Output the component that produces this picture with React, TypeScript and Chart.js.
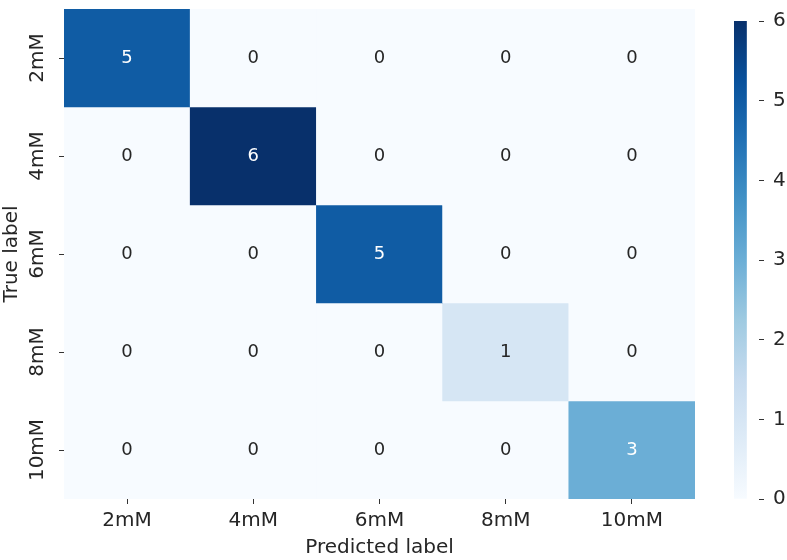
import React, { useEffect, useRef } from 'react';
import { Chart, registerables } from 'chart.js';

Chart.register(...registerables);

const predictedLabels = ['2mM', '4mM', '6mM', '8mM', '10mM'];
const trueLabels = ['2mM', '4mM', '6mM', '8mM', '10mM'];
const matrixRows: number[][] = [
  [5, 0, 0, 0, 0],
  [0, 6, 0, 0, 0],
  [0, 0, 5, 0, 0],
  [0, 0, 0, 1, 0],
  [0, 0, 0, 0, 3],
];
const colorbarTicks = [0, 1, 2, 3, 4, 5, 6];
const vMin = 0;
const vMax = 6;

const BLUES = [
  [247, 251, 255],
  [222, 235, 247],
  [198, 219, 239],
  [158, 202, 225],
  [107, 174, 214],
  [66, 146, 198],
  [33, 113, 181],
  [8, 81, 156],
  [8, 48, 107],
];

const FONT = 'DejaVu Sans';
const TEXT = '#262626';
const LABEL_SIZE = 20;
const ANNOT_SIZE = 18;

function bluesAt(t: number): number[] {
  const x = Math.max(0, Math.min(1, t)) * (BLUES.length - 1);
  const i = Math.min(BLUES.length - 2, Math.floor(x));
  const f = x - i;
  const a = BLUES[i];
  const b = BLUES[i + 1];
  return [0, 1, 2].map((k) => a[k] + (b[k] - a[k]) * f);
}
function rgb(c: number[]) {
  return `rgb(${Math.round(c[0])},${Math.round(c[1])},${Math.round(c[2])})`;
}
function colorFor(v: number) {
  return rgb(bluesAt((v - vMin) / (vMax - vMin)));
}
function isLight(v: number) {
  const c = bluesAt((v - vMin) / (vMax - vMin)).map((u) => {
    const s = u / 255;
    return s <= 0.03928 ? s / 12.92 : Math.pow((s + 0.055) / 1.055, 2.4);
  });
  const lum = 0.2126 * c[0] + 0.7152 * c[1] + 0.0722 * c[2];
  return lum > 0.408;
}

const heatPlugin = {
  id: 'heatText',
  afterDatasetsDraw(chart: any) {
    const ctx = chart.ctx;
    const xs = chart.scales.x;
    const ys = chart.scales.y;
    ctx.save();
    ctx.font = `${ANNOT_SIZE}px "${FONT}"`;
    ctx.textAlign = 'center';
    ctx.textBaseline = 'middle';
    matrixRows.forEach((row, r) => {
      row.forEach((v, c) => {
        ctx.fillStyle = isLight(v) ? TEXT : '#ffffff';
        ctx.fillText(String(v), xs.getPixelForValue(c), ys.getPixelForValue(r + 0.5));
      });
    });
    ctx.restore();
  },
  afterDraw(chart: any) {
    const ctx = chart.ctx;
    const ys = chart.scales.y;
    const baseX = chart.chartArea.left - 21;
    ctx.save();
    ctx.font = `${LABEL_SIZE}px "${FONT}"`;
    ctx.fillStyle = TEXT;
    ctx.textAlign = 'center';
    ctx.textBaseline = 'alphabetic';
    trueLabels.forEach((lab, r) => {
      ctx.save();
      ctx.translate(baseX, ys.getPixelForValue(r + 0.5));
      ctx.rotate(-Math.PI / 2);
      ctx.fillText(lab, 0, 0);
      ctx.restore();
    });
    ctx.restore();
  },
};

export default function App() {
  const mainRef = useRef<HTMLCanvasElement>(null);
  const barRef = useRef<HTMLCanvasElement>(null);

  useEffect(() => {
    if (!mainRef.current || !barRef.current) return;

    const datasets = matrixRows.map((row, r) => ({
      label: trueLabels[r],
      data: row.map(() => [r, r + 1]),
      backgroundColor: row.map((v) => colorFor(v)),
      borderWidth: 0,
      barPercentage: 1,
      categoryPercentage: 1,
      grouped: false,
    }));

    const main = new Chart(mainRef.current, {
      type: 'bar',
      data: { labels: predictedLabels, datasets: datasets as any },
      plugins: [heatPlugin],
      options: {
        responsive: false,
        animation: false,
        layout: { padding: { top: 9, right: 92, left: 0, bottom: 0 } },
        plugins: { legend: { display: false }, tooltip: { enabled: false } },
        scales: {
          x: {
            type: 'category',
            offset: true,
            grid: { drawOnChartArea: false, offset: false, tickLength: 5, color: '#333333', lineWidth: 1 },
            border: { display: false },
            ticks: { color: TEXT, font: { family: FONT, size: LABEL_SIZE }, padding: 5, maxRotation: 0, minRotation: 0 },
            title: { display: true, text: 'Predicted label', color: TEXT, font: { family: FONT, size: LABEL_SIZE }, padding: 0 },
            afterFit: (s: any) => { s.height = 61; },
          },
          y: {
            type: 'linear',
            min: 0,
            max: 5,
            reverse: true,
            afterBuildTicks: (s: any) => { s.ticks = trueLabels.map((_, i) => ({ value: i + 0.5 })); },
            grid: { drawOnChartArea: false, tickLength: 5, color: '#333333', lineWidth: 1 },
            border: { display: false },
            ticks: { display: false },
            title: { display: true, text: 'True label', color: TEXT, font: { family: FONT, size: LABEL_SIZE }, padding: 0 },
            afterFit: (s: any) => { s.width = 64; },
          },
        },
      } as any,
    });

    const bar = new Chart(barRef.current, {
      type: 'bar',
      data: {
        labels: [''],
        datasets: [
          {
            data: [[vMin, vMax]] as any,
            borderWidth: 0,
            barPercentage: 1,
            categoryPercentage: 1,
            backgroundColor: (c: any) => {
              const area = c.chart.chartArea;
              if (!area) return rgb(BLUES[8]);
              const g = c.chart.ctx.createLinearGradient(0, area.bottom, 0, area.top);
              BLUES.forEach((col, i) => g.addColorStop(i / (BLUES.length - 1), rgb(col)));
              return g;
            },
          },
        ],
      },
      options: {
        responsive: false,
        animation: false,
        layout: { padding: { top: 9, left: 34, bottom: 61, right: 0 } },
        plugins: { legend: { display: false }, tooltip: { enabled: false } },
        scales: {
          x: { type: 'category', display: false, offset: false },
          y: {
            type: 'linear',
            position: 'right',
            min: vMin,
            max: vMax,
            afterBuildTicks: (s: any) => { s.ticks = colorbarTicks.map((v) => ({ value: v })); },
            grid: { drawOnChartArea: false, tickLength: 5, color: '#333333', lineWidth: 1 },
            border: { display: false },
            ticks: { color: TEXT, font: { family: FONT, size: LABEL_SIZE }, padding: 9 },
            afterFit: (s: any) => { s.width = 28; },
          },
        },
      } as any,
    });

    return () => {
      main.destroy();
      bar.destroy();
    };
  }, []);

  return (
    <div style={{ position: 'fixed', left: 0, top: 0, width: 787, height: 560, background: '#ffffff' }}>
      <canvas ref={mainRef} width={787} height={560} style={{ position: 'absolute', left: 0, top: 0, width: 787, height: 560 }} />
      <canvas ref={barRef} width={87} height={560} style={{ position: 'absolute', left: 700, top: 0, width: 87, height: 560 }} />
    </div>
  );
}
